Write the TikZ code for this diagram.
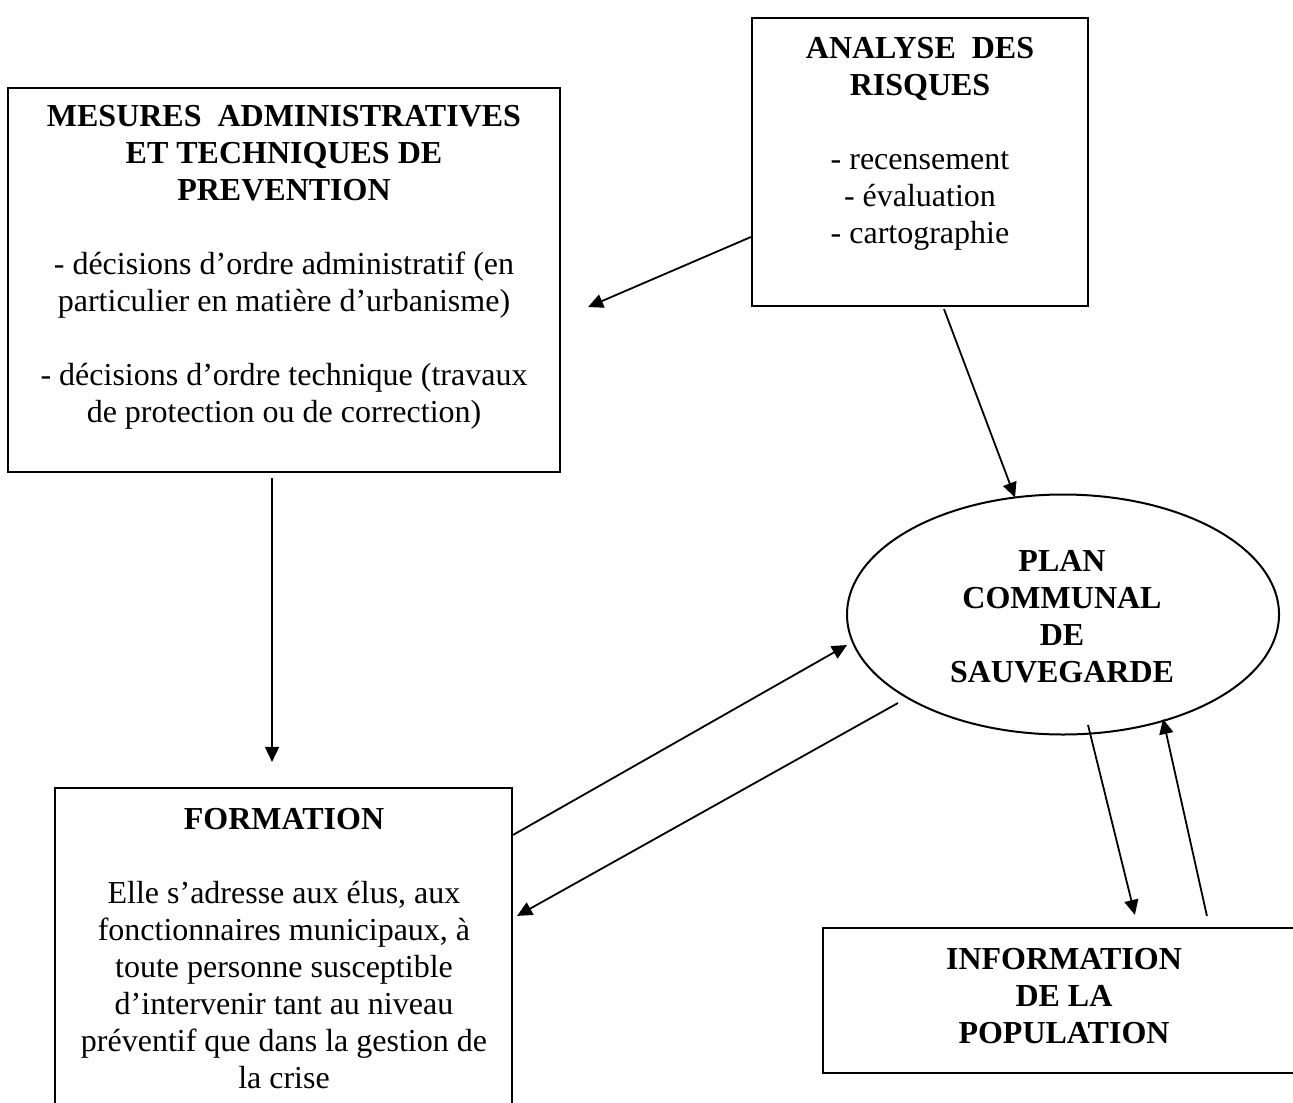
\documentclass[tikz,border=0pt]{standalone}
\usepackage{fontspec}
\setmainfont{Liberation Serif}
\usetikzlibrary{arrows.meta,shapes.geometric,calc}
\begin{document}
\begin{tikzpicture}[x=0.5pt,y=-0.5pt,
  box/.style={draw, line width=1.1pt, rectangle, inner sep=0pt},
  oval/.style={draw, line width=1pt, ellipse, inner sep=0pt},
  txt/.style={inner sep=0pt, align=center, font=\fontsize{16pt}{18.5pt}\selectfont},
  btxt/.style={txt, font=\fontsize{16pt}{18.5pt}\selectfont\bfseries},
  arr/.style={line width=0.9pt, -{Triangle[length=7.5pt,width=7pt]}}]
\useasboundingbox (0,0) rectangle (1293,1102);
\fill[white] (0,0) rectangle (1293,1102);

% boxes
\node[box, minimum width=276pt, minimum height=192pt] (mesures) at (284,280) {};
\node[box, minimum width=168pt, minimum height=144pt] (analyse) at (920,162) {};
\node[box, minimum width=228.5pt, minimum height=171pt] (formation) at (283.5,959) {};
\node[box, minimum width=241pt, minimum height=72.5pt] (info) at (1064,1000.5) {};
\node[oval, minimum width=216pt, minimum height=120pt] (plan) at (1063,614.5) {};

% texts
\node[txt] (mesuresT) at (284,267)
  {\textbf{MESURES~ ADMINISTRATIVES}\\ \textbf{ET TECHNIQUES DE}\\ \textbf{PREVENTION}\\[18.5pt]
   - décisions d’ordre administratif (en\\ particulier en matière d’urbanisme)\\[18.5pt]
   - décisions d’ordre technique (travaux\\ de protection ou de correction)};
\node[txt] (analyseT) at (920,144)
  {\textbf{ANALYSE~ DES}\\ \textbf{RISQUES}\\[18.5pt] - recensement\\ - évaluation\\ - cartographie};
\node[txt] (formationT) at (284,948.5)
  {\textbf{FORMATION}\\[18.5pt] Elle s’adresse aux élus, aux\\ fonctionnaires municipaux, à\\
   toute personne susceptible\\ d’intervenir tant au niveau\\ préventif que dans la gestion de\\ la crise};
\node[btxt] (planT) at (1062,617) {PLAN\\ COMMUNAL\\ DE\\ SAUVEGARDE};
\node[btxt] (infoT) at (1064,996) {INFORMATION\\ DE LA\\ POPULATION};

% connectors
\draw[arr] ($(analyse.west)+(0,75)$) -- ($(mesures.east)+(27,27)$);
\draw[arr] ($(analyse.south)+(24,2)$) -- ($(plan.center)+(-48,-117)$);
\draw[arr] ($(mesures.south)+(-12,5)$) -- ($(formation.north)+(-11.5,-25)$);
\draw[arr] ($(formation.north east)+(0,48)$) -- ($(plan.center)+(-216,30.5)$);
\draw[arr] ($(plan.center)+(-165,88.5)$) -- ($(formation.north east)+(4,129)$);
\draw[arr] ($(plan.center)+(25,110.5)$) -- ($(info.north west)+(313,-12)$);
\draw[arr] ($(info.north west)+(385,-11)$) -- ($(plan.center)+(100,104.5)$);
\end{tikzpicture}
\end{document}
